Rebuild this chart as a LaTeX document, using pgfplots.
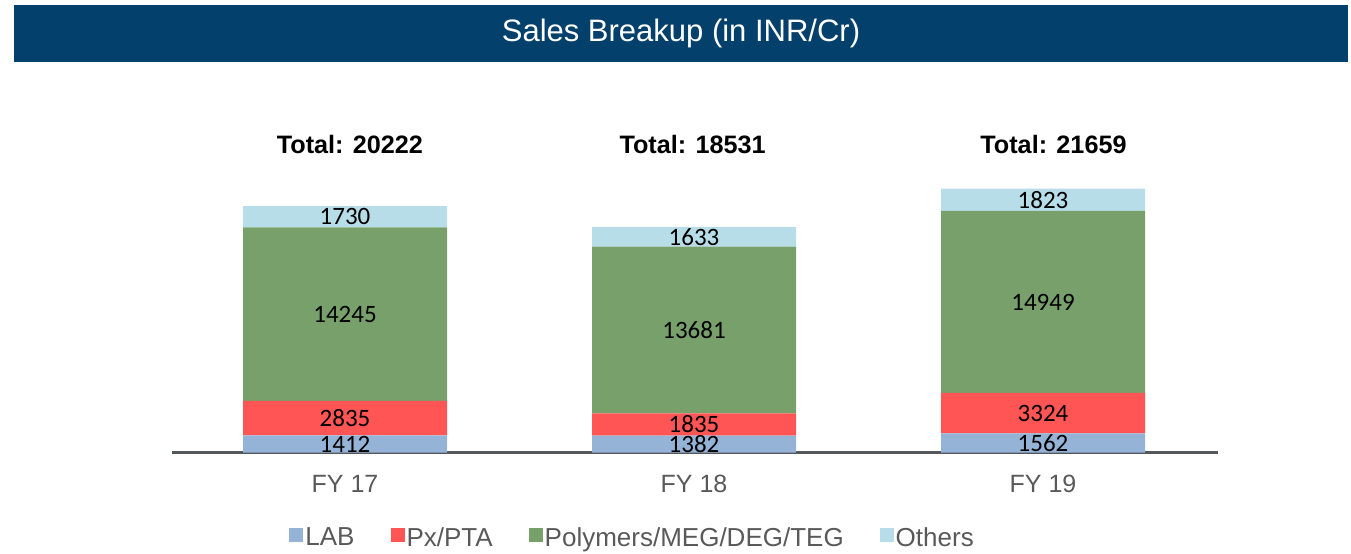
\documentclass[border=0pt]{standalone}
\usepackage{pgfplots}
\pgfplotsset{compat=1.18}
\usepackage{fontspec}
\setmainfont{Liberation Sans}
\newfontfamily\calibri{Carlito}
\definecolor{banner}{RGB}{3,64,107}
\definecolor{labc}{HTML}{95B3D7}
\definecolor{pxc}{HTML}{FF5555}
\definecolor{polyc}{HTML}{77A06B}
\definecolor{othc}{HTML}{B7DEE8}
\definecolor{axgray}{HTML}{54575C}
\definecolor{txtgray}{HTML}{595959}
\pgfplotsset{sqlegend/.style={legend image code/.code={\fill[##1] (0pt,-1.5pt) rectangle (7pt,5.5pt);}}}
\begin{document}
\begin{tikzpicture}[x=0.5pt,y=0.5pt]
\path[use as bounding box] (0,0) rectangle (1351,-553);
\fill[banner] (14,-5) rectangle (1348,-62);
\node[text=white, font=\fontsize{15.5}{18}\selectfont] at (681,-33.5) {Sales Breakup (in INR/Cr)};
\coordinate (O) at (172,-452.5);
\begin{axis}[
  at={(O)}, anchor=south west,
  scale only axis, width=523pt, height=152.25pt,
  xmin=-0.4957, xmax=2.5014, ymin=0, ymax=25000,
  enlargelimits=false,
  ybar stacked, bar width=102pt,
  axis x line*=bottom, axis y line=none,
  x axis line style={axgray, line width=1.5pt},
  xtick={0,1,2}, xticklabels={FY 17, FY 18, FY 19},
  xtick style={draw=none},
  xticklabel style={font=\fontsize{12.5}{15}\selectfont, text=txtgray, anchor=base, yshift=-20pt},
  clip=false,
  nodes near coords,
  /pgf/number format/1000 sep={},
  /pgf/number format/assume math mode=true,
  every node near coord/.append style={font=\fontsize{12.5}{15}\selectfont\calibri, text=black, anchor=center},
  legend columns=4,
  legend style={at={(0.4403,-0.2825)}, anchor=center, draw=none, fill=none,
    font=\fontsize{13}{15}\selectfont, text=txtgray,
    nodes={inner sep=1pt},
    /tikz/every even column/.append style={column sep=17pt}},
  legend cell align=left,
]
\addplot[fill=labc, draw=none, sqlegend] coordinates {(0,1412) (1,1382) (2,1562)};
\addplot[fill=pxc, draw=none, sqlegend] coordinates {(0,2835) (1,1835) (2,3324)};
\addplot[fill=polyc, draw=none, sqlegend] coordinates {(0,14245) (1,13681) (2,14949)};
\addplot[fill=othc, draw=none, sqlegend] coordinates {(0,1730) (1,1633) (2,1823)};
\legend{LAB, Px/PTA, Polymers/MEG/DEG/TEG, Others}
\node[font=\bfseries\fontsize{12.6}{15}\selectfont] at (axis cs:0.014,25300) {Total: 20222};
\node[font=\bfseries\fontsize{12.6}{15}\selectfont] at (axis cs:0.996,25300) {Total: 18531};
\node[font=\bfseries\fontsize{12.6}{15}\selectfont] at (axis cs:2.03,25300) {Total: 21659};
\end{axis}
\end{tikzpicture}
\end{document}
